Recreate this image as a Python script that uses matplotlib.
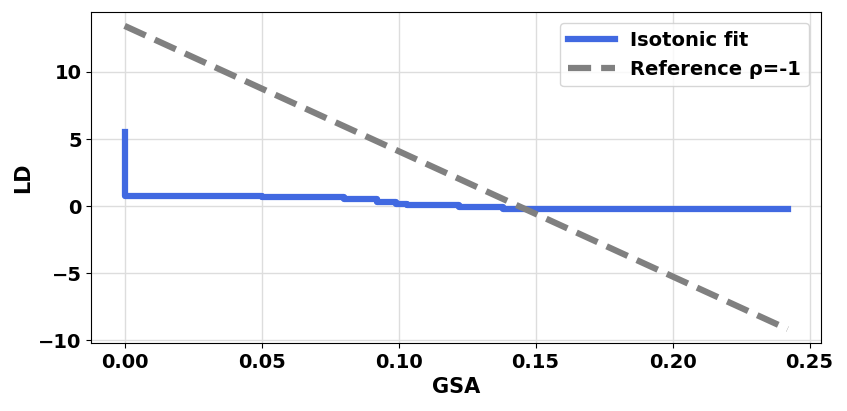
import numpy as np
import matplotlib
matplotlib.use('Agg')
import matplotlib.pyplot as plt

# Isotonic fit (step function)
gsa_fit = [0.0, 0.0, 0.050, 0.080, 0.092, 0.099, 0.103, 0.122, 0.138, 0.242]
ld_fit = [5.5, 0.75, 0.70, 0.52, 0.35, 0.20, 0.10, -0.05, -0.18, -0.18]

# Reference line rho = -1 (end points)
gsa_ref = [0.0, 0.242]
ld_ref = [13.43, -9.15]

plt.rcParams['font.weight'] = 'bold'
plt.rcParams['axes.labelweight'] = 'bold'

fig, ax = plt.subplots(figsize=(8.47, 4.11), dpi=100)
fig.subplots_adjust(left=0.108, right=0.969, top=0.972, bottom=0.165)

ax.plot(gsa_fit, ld_fit, drawstyle='steps-post', color='royalblue', linewidth=4.5, label='Isotonic fit')
ax.plot(gsa_ref, ld_ref, '--', color='gray', linewidth=4.5, label='Reference \u03c1=-1')

ax.set_xlim(-0.0121, 0.2541)
ax.set_ylim(-10.2, 14.5)
ax.set_xticks([0.0, 0.05, 0.10, 0.15, 0.20, 0.25])
ax.set_yticks([-10, -5, 0, 5, 10])
ax.grid(True, color='#dddddd', linewidth=1)
ax.set_axisbelow(True)
ax.tick_params(labelsize=14)
ax.set_xlabel('GSA', fontsize=15, fontweight='bold')
ax.set_ylabel('LD', fontsize=15, fontweight='bold')
ax.legend(loc='upper right', prop={'weight': 'bold', 'size': 14}, handlelength=2.4, borderaxespad=0.6)

plt.savefig('out.png', dpi=100)
